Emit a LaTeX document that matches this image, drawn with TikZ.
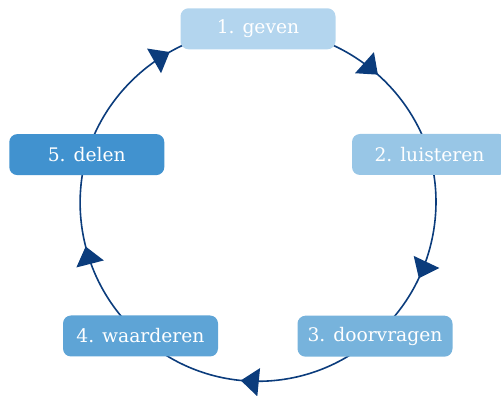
\documentclass[tikz,border=0pt]{standalone}
\usepackage{fontspec}
\setmainfont{DejaVu Serif}
\usetikzlibrary{arrows.meta,decorations.markings,backgrounds}

\definecolor{stepA}{HTML}{B3D5EE}
\definecolor{stepB}{HTML}{98C6E6}
\definecolor{stepC}{HTML}{77B3DC}
\definecolor{stepD}{HTML}{5EA4D6}
\definecolor{stepE}{HTML}{4192CF}
\definecolor{ring}{HTML}{0B3C7C}

\tikzset{
  stage/.style={rounded corners=8pt, minimum width=155pt, minimum height=41pt,
    inner sep=0pt, text=white, font=\fontsize{18.7}{22}\selectfont},
  link/.style={draw=ring, color=ring, line width=1.6pt},
  tipat/.style={postaction={decorate},
    decoration={markings,
      mark=at position #1 with {\arrow{Triangle[length=18pt,width=28pt]}}}}
}

\begin{document}
\begin{tikzpicture}[x=1pt,y=1pt]
  \useasboundingbox (0,0) rectangle (501,396);

  % the five stages around the cycle
  \node[stage, fill=stepA] (geven)      at (258,367.2)  {1. geven};
  \node[stage, fill=stepB] (luisteren)  at (429.5,241.5) {2. luisteren};
  \node[stage, fill=stepC] (doorvragen) at (375,59.8)   {3. doorvragen};
  \node[stage, fill=stepD] (waarderen)  at (140.5,60)   {4. waarderen};
  \node[stage, fill=stepE] (delen)      at (86.8,241.4) {5. delen};

  % clockwise arcs between the stages, behind the boxes
  \begin{scope}[on background layer]
    \draw[link, tipat=0.577] (geven.center)
      to[bend left=36.4, looseness=0.94] (luisteren.center);
    \draw[link, tipat=0.634] (luisteren.center)
      to[bend left=32.35, looseness=0.92] (doorvragen.center);
    \draw[link, tipat=0.566] (doorvragen.center)
      to[bend left=42.25, looseness=0.98] (waarderen.center);
    \draw[link, tipat=0.534] (waarderen.center)
      to[bend left=32.4, looseness=0.92] (delen.center);
    \draw[link, tipat=0.594] (delen.center)
      to[bend left=36.6, looseness=0.94] (geven.center);
  \end{scope}
\end{tikzpicture}
\end{document}
